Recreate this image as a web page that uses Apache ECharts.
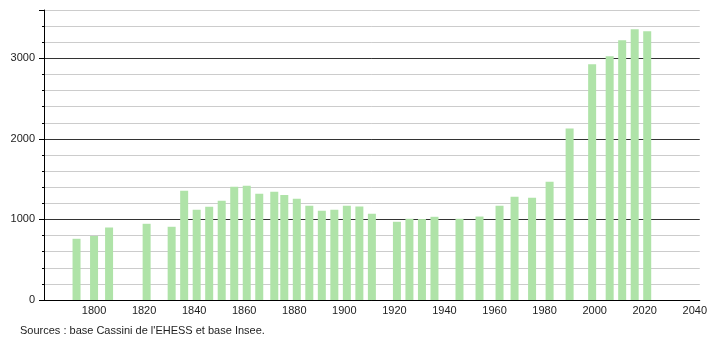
<!DOCTYPE html>
<html>
<head>
<meta charset="utf-8">
<script src="https://cdn.jsdelivr.net/npm/echarts@6/dist/echarts.min.js"></script>
<style>
html,body{margin:0;padding:0;background:#fff;}
#c{width:710px;height:340px;}
</style>
</head>
<body>
<div id="c"></div>
<script>
var years = [1793,1800,1806,1821,1831,1836,1841,1846,1851,1856,1861,1866,1872,1876,1881,1886,1891,1896,1901,1906,1911,1921,1926,1931,1936,1946,1954,1962,1968,1975,1982,1990,1999,2006,2011,2016,2021];
var population = [760,795,900,946,909,1357,1120,1158,1232,1407,1419,1320,1345,1303,1257,1170,1108,1120,1170,1162,1071,971,1008,1005,1033,1008,1036,1170,1282,1270,1469,2129,2926,3025,3225,3362,3337];
var sourceText = "Sources : base Cassini de l'EHESS et base Insee.";

var data = years.map(function(y,i){return [y, population[i]];});
var font = 'Liberation Sans, Arial, sans-serif';
var chart = echarts.init(document.getElementById('c'));
chart.setOption({
  animation:false,
  backgroundColor:'#fff',
  grid:{left:44,right:10,top:10,bottom:40,containLabel:false},
  xAxis:{
    type:'value', min:1780, max:2042, interval:20,
    axisLine:{show:true,lineStyle:{color:'#000',width:1}},
    axisTick:{show:false},
    splitLine:{show:false},
    axisLabel:{margin:5,fontSize:11,fontFamily:font,color:'#222',
      formatter:function(v){return (v%20===0 && v>1780)?String(v):'';}}
  },
  yAxis:[{
    type:'value', min:0, max:3600, interval:200,
    axisLine:{show:true,lineStyle:{color:'#000',width:1}},
    axisTick:{show:true,length:2,lineStyle:{color:'#000'}},
    splitLine:{show:true,lineStyle:{color:['#333','#ccc','#ccc','#ccc','#ccc'],width:1}},
    axisLabel:{margin:9,fontSize:11,fontFamily:font,color:'#222',
      formatter:function(v){return (v%1000===0)?String(v):'';}}
  },{
    type:'value', min:0, max:3600, interval:1000, position:'left',
    axisLine:{show:false},
    axisTick:{show:true,length:5,lineStyle:{color:'#000'}},
    splitLine:{show:false},
    axisLabel:{show:false}
  }],
  series:[{
    type:'bar', data:data, barWidth:8, yAxisIndex:0,
    itemStyle:{color:'#afe3a8'}
  }],
  graphic:[{
    type:'text', left:20, top:325,
    style:{text:sourceText, font:'11px Liberation Sans, Arial, sans-serif', fill:'#222'}
  }]
});
</script>
</body>
</html>
